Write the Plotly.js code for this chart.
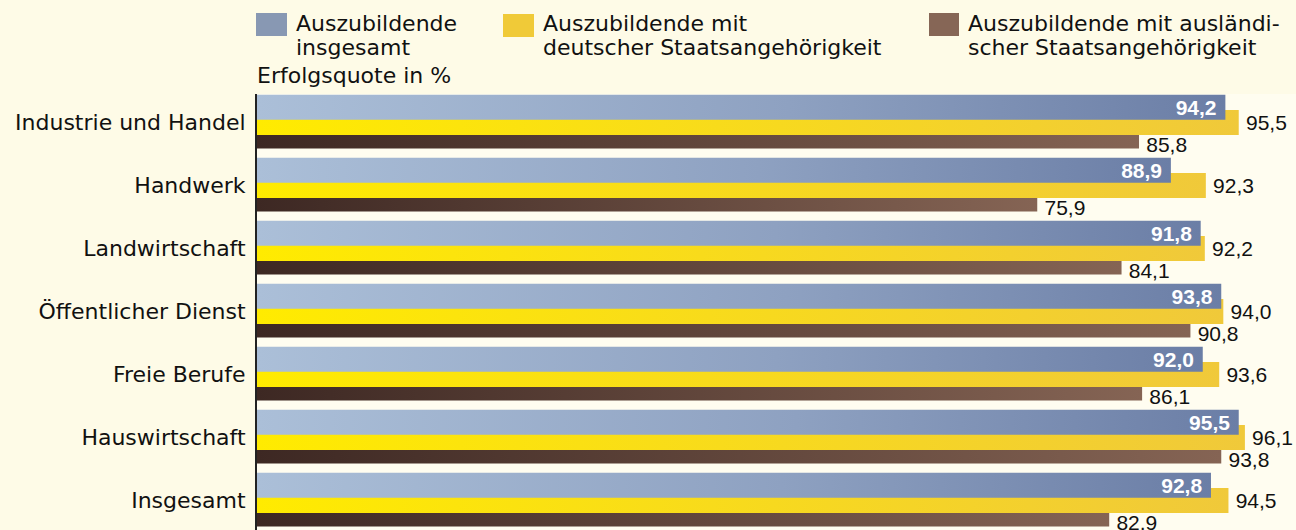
<!DOCTYPE html>
<html>
<head>
<meta charset="utf-8">
<script src="https://cdn.plot.ly/plotly-3.0.1.min.js"></script>
<style>
  html, body { margin: 0; padding: 0; background: #fefbe7; }
  #chart { width: 1296px; height: 530px; }
</style>
</head>
<body>
<div id="chart"></div>
<script>
// ---- data ----
const categories = ['Industrie und Handel', 'Handwerk', 'Landwirtschaft', 'Öffentlicher Dienst', 'Freie Berufe', 'Hauswirtschaft', 'Insgesamt'];
const insgesamt = [94.2, 88.9, 91.8, 93.8, 92.0, 95.5, 92.8];
const deutsch = [95.5, 92.3, 92.2, 94.0, 93.6, 96.1, 94.5];
const auslaendisch = [85.8, 75.9, 84.1, 90.8, 86.1, 93.8, 82.9];
const seriesNames = ['Auszubildende insgesamt', 'Auszubildende mit deutscher Staatsangehörigkeit', 'Auszubildende mit ausländischer Staatsangehörigkeit'];
const legendLines = [
  ['Auszubildende', 'insgesamt'],
  ['Auszubildende mit', 'deutscher Staatsangehörigkeit'],
  ['Auszubildende mit ausländi-', 'scher Staatsangehörigkeit']
];
const axisTitle = 'Erfolgsquote in %';

// ---- styling ----
const W = 1296, H = 530;
const M = {l: 257, r: 0, t: 94, b: 0};
const plotW = W - M.l - M.r, plotH = H - M.t - M.b;
const pitch = 63;                  // px per category
const center0 = 122;               // px of first category centre
const pxX = px => (px - M.l) / plotW;
const pxY = py => (H - M.b - py) / plotH;
const u = px => px / pitch;

const legendColors = ['#8898b3', '#f0ca38', '#866656'];
const gradStops = {
  blue:  [[0, '#abbfd8'], [0.55, '#8ea1c1'], [1, '#6b7ea6']],
  yellow:[[0, '#ffeb00'], [1, '#f0c93a']],
  brown: [[0, '#3d2823'], [1, '#856454']]
};

const numFont = 'Liberation Sans, Arial, sans-serif';
const lblFont = 'DejaVu Sans, sans-serif';

const traces = [
  { // brown (drawn first, bottom)
    type: 'bar', orientation: 'h', name: seriesNames[2],
    y: categories, x: auslaendisch,
    offset: u(13), width: u(13.5),
    marker: {color: '#856454', line: {width: 0}},
    textposition: 'none', hoverinfo: 'x+name'
  },
  { // yellow
    type: 'bar', orientation: 'h', name: seriesNames[1],
    y: categories, x: deutsch,
    offset: u(-12), width: u(25),
    marker: {color: '#f0ca38', line: {width: 0}},
    texttemplate: '\u2009%{x:.1f}', textposition: 'outside',
    textfont: {family: numFont, size: 21, color: '#111'},
    constraintext: 'none', cliponaxis: false, hoverinfo: 'x+name'
  },
  { // blue (top)
    type: 'bar', orientation: 'h', name: seriesNames[0],
    y: categories, x: insgesamt,
    offset: u(-27.3), width: u(25),
    marker: {color: '#8898b3', line: {width: 0}},
    texttemplate: '%{x:.1f}\u00a0', textposition: 'inside', insidetextanchor: 'end',
    textfont: {family: numFont, size: 21, color: '#ffffff', weight: 'bold'},
    constraintext: 'none', cliponaxis: false, hoverinfo: 'x+name'
  },
  { // labels for brown series (transparent carrier, slightly lower)
    type: 'bar', orientation: 'h', name: seriesNames[2], showlegend: false,
    y: categories, x: auslaendisch,
    offset: u(15), width: u(14),
    marker: {color: 'rgba(0,0,0,0)', line: {width: 0}},
    texttemplate: '\u2009%{x:.1f}', textposition: 'outside',
    textfont: {family: numFont, size: 21, color: '#111'},
    constraintext: 'none', cliponaxis: false, hoverinfo: 'skip'
  }
];

const annotations = [];
const shapes = [];
const sq = [
  {x0: 256, x1: 287, y0: 13, y1: 36, tx: 294},
  {x0: 503, x1: 534, y0: 14, y1: 37, tx: 541},
  {x0: 929, x1: 959, y0: 13, y1: 36, tx: 966}
];
sq.forEach((s, i) => {
  shapes.push({type: 'rect', xref: 'paper', yref: 'paper',
    x0: pxX(s.x0), x1: pxX(s.x1), y0: pxY(s.y1), y1: pxY(s.y0),
    fillcolor: legendColors[i], line: {width: 0}});
  legendLines[i].forEach((t, j) => {
    annotations.push({xref: 'paper', yref: 'paper', x: pxX(s.tx), y: pxY(24 + j * 23.3),
      xanchor: 'left', yanchor: 'middle', showarrow: false, text: t,
      font: {family: lblFont, size: 22, color: '#111'}});
  });
});
annotations.push({xref: 'paper', yref: 'paper', x: pxX(255), y: pxY(76),
  xanchor: 'left', yanchor: 'middle', showarrow: false, text: axisTitle,
  font: {family: lblFont, size: 22, color: '#111'}});

const layout = {
  width: W, height: H,
  margin: M,
  paper_bgcolor: '#fefbe7',
  plot_bgcolor: '#fffdf0',
  separators: ',.',
  barmode: 'overlay',
  showlegend: false,
  xaxis: {range: [0, plotW / 10.28], showgrid: false, zeroline: false, showticklabels: false, showline: false, fixedrange: true},
  yaxis: {type: 'category', range: [(H - M.b - center0) / pitch, (M.t - center0) / pitch],
    showline: true, linecolor: '#222', linewidth: 2, showgrid: false, zeroline: false,
    ticks: '', ticklabelstandoff: 5,
    tickfont: {family: lblFont, size: 22, color: '#111'}, fixedrange: true},
  shapes: shapes,
  annotations: annotations
};

function applyGradients(gd) {
  const NS = 'http://www.w3.org/2000/svg';
  const svg = gd.querySelector('svg.main-svg');
  let defs = svg.querySelector('defs');
  if (!defs) { defs = document.createElementNS(NS, 'defs'); svg.insertBefore(defs, svg.firstChild); }
  const order = ['brown', 'yellow', 'blue', null];
  ['brown', 'yellow', 'blue'].forEach(k => {
    const lg = document.createElementNS(NS, 'linearGradient');
    lg.setAttribute('id', 'grad-' + k);
    lg.setAttribute('x1', '0'); lg.setAttribute('y1', '0');
    lg.setAttribute('x2', '1'); lg.setAttribute('y2', '0');
    gradStops[k].forEach(([o, c]) => {
      const st = document.createElementNS(NS, 'stop');
      st.setAttribute('offset', o);
      st.setAttribute('stop-color', c);
      lg.appendChild(st);
    });
    defs.appendChild(lg);
  });
  const tr = gd.querySelectorAll('.barlayer .trace');
  tr.forEach((t, i) => {
    if (!order[i]) return;
    t.querySelectorAll('.point path').forEach(p => {
      p.style.fill = 'url(#grad-' + order[i] + ')';
    });
  });
}

Plotly.newPlot('chart', traces, layout, {staticPlot: true, displayModeBar: false}).then(applyGradients);
</script>
</body>
</html>
